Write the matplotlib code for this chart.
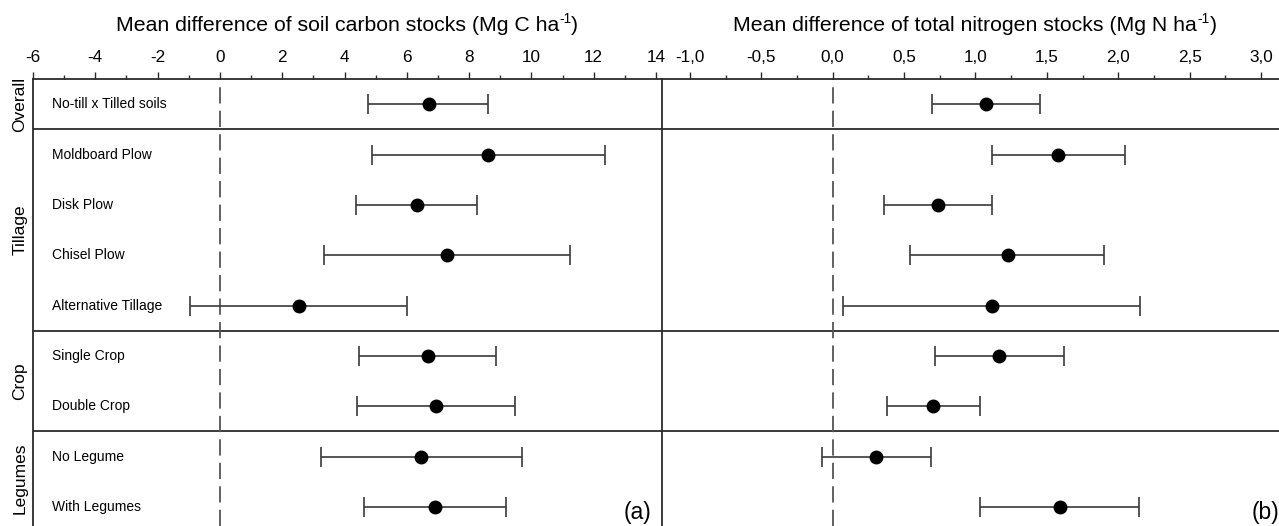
import matplotlib
matplotlib.use("Agg")
import matplotlib.pyplot as plt
from matplotlib.ticker import MultipleLocator, FuncFormatter

plt.rcParams['font.family'] = ['Liberation Sans', 'DejaVu Sans']
plt.rcParams['axes.unicode_minus'] = False

# ---------------- data ----------------
categories = ["No-till x Tilled soils", "Moldboard Plow", "Disk Plow", "Chisel Plow",
              "Alternative Tillage", "Single Crop", "Double Crop", "No Legume", "With Legumes"]
groups = ["Overall", "Tillage", "Crop", "Legumes"]
group_rows = [(0, 0), (1, 4), (5, 6), (7, 8)]

carbon_mean = [6.71, 8.60, 6.32, 7.30, 2.54, 6.67, 6.95, 6.46, 6.91]
carbon_low = [4.77, 4.87, 4.36, 3.35, -0.95, 4.46, 4.41, 3.23, 4.61]
carbon_high = [8.62, 12.35, 8.24, 11.24, 6.01, 8.87, 9.46, 9.71, 9.18]

nitrogen_mean = [1.073, 1.580, 0.740, 1.225, 1.113, 1.167, 0.705, 0.306, 1.590]
nitrogen_low = [0.697, 1.113, 0.359, 0.544, 0.070, 0.716, 0.380, -0.077, 1.031]
nitrogen_high = [1.452, 2.047, 1.118, 1.902, 2.154, 1.617, 1.029, 0.686, 2.145]

carbon_ticks = [-6, -4, -2, 0, 2, 4, 6, 8, 10, 12, 14]
nitrogen_ticks = [-1.0, -0.5, 0.0, 0.5, 1.0, 1.5, 2.0, 2.5, 3.0]

title_c = ["Mean difference of soil carbon stocks (Mg C ha", "-1", ")"]
title_n = ["Mean difference of total nitrogen stocks (Mg N ha", "-1", ")"]

# ---------------- figure ----------------
W, H = 1279, 526
fig = plt.figure(figsize=(W / 100, H / 100), dpi=100)

top_px = 79
axh = (H - top_px) / H
axL = fig.add_axes([33 / W, 0, 629 / W, axh])
axR = fig.add_axes([662 / W, 0, (W - 662) / W, axh])

spine_col = "#2b2b2b"
sep_rows = [0.5, 4.5, 6.5]
n = len(categories)
ypos = list(range(n))

def style(ax, xlim, ticks, minor_step, fmt):
    ax.set_facecolor('none')
    ax.set_xlim(*xlim)
    ax.set_ylim(n - 1 + 0.38, -0.5)
    ax.xaxis.tick_top()
    ax.set_xticks(ticks)
    ax.xaxis.set_minor_locator(MultipleLocator(minor_step))
    ax.xaxis.set_major_formatter(FuncFormatter(fmt))
    ax.tick_params(axis='x', which='major', direction='out', length=5, width=1,
                   color=spine_col, labelsize=12.3, pad=5)
    ax.tick_params(axis='x', which='minor', direction='out', length=3, width=1,
                   color=spine_col)
    ax.set_yticks([])
    for s in ax.spines.values():
        s.set_color(spine_col)
        s.set_linewidth(1.3)
    ax.spines['bottom'].set_visible(False)
    for r in sep_rows:
        ax.axhline(r, color=spine_col, lw=1.3, zorder=1)
    ax.axvline(0, color="#555555", lw=1.3, dashes=(9, 4), zorder=1)

style(axL, (-6, -6 + 629 / 31.15), carbon_ticks, 1, lambda v, p: f"{v:.0f}")
style(axR, (-1.195, -1.195 + (W - 662) / 142.8), nitrogen_ticks, 0.25,
      lambda v, p: f"{v:.1f}".replace(".", ","))
axR.spines['left'].set_visible(False)
axR.spines['right'].set_visible(False)

def draw(ax, mean, low, high):
    xerr = [[m - l for m, l in zip(mean, low)], [h - m for m, h in zip(mean, high)]]
    ax.errorbar(mean, ypos, xerr=xerr, fmt='o', color='black', ms=9,
                ecolor="#3a3a3a", elinewidth=1.2, capsize=7, capthick=1.2, zorder=3)

draw(axL, carbon_mean, carbon_low, carbon_high)
draw(axR, nitrogen_mean, nitrogen_low, nitrogen_high)

for i, c in enumerate(categories):
    axL.text(0.030, i, c, transform=axL.get_yaxis_transform(), ha='left', va='center',
             fontsize=10, color='black')

# group labels
def row_to_fig(y):
    disp = axL.transData.transform((0, y))
    return fig.transFigure.inverted().transform(disp)[1]

for g, (a, b) in zip(groups, group_rows):
    y0 = a - 0.5
    y1 = min(b + 0.5, n - 1 + 0.38)
    yc = (row_to_fig(y0) + row_to_fig(y1)) / 2
    fig.text(20 / W, yc, g, rotation=90, ha='center', va='center', fontsize=12.5)

# titles with a plain hyphen superscript
renderer = fig.canvas.get_renderer()

def title(parts, xc_px, base_px, size=15.3):
    sizes = [size, size * 0.65, size]
    raises = [0, 8, 0]
    widths = []
    for p, s in zip(parts, sizes):
        t = fig.text(0, 0, p, fontsize=s)
        widths.append(t.get_window_extent(renderer).width)
        t.remove()
    x = xc_px - sum(widths) / 2
    for p, s, r, w in zip(parts, sizes, raises, widths):
        fig.text(x / W, 1 - (base_px - r) / H, p, fontsize=s, ha='left', va='baseline')
        x += w

title(title_c, 347, 31)
title(title_n, 975, 31)

axL.text(13.85, n - 1 + 0.12, "(a)", ha='right', va='center', fontsize=16.5)
axR.text(2.934, n - 1 + 0.12, "(b)", ha='left', va='center', fontsize=16.5, clip_on=False)

fig.savefig("out.png", dpi=100)
